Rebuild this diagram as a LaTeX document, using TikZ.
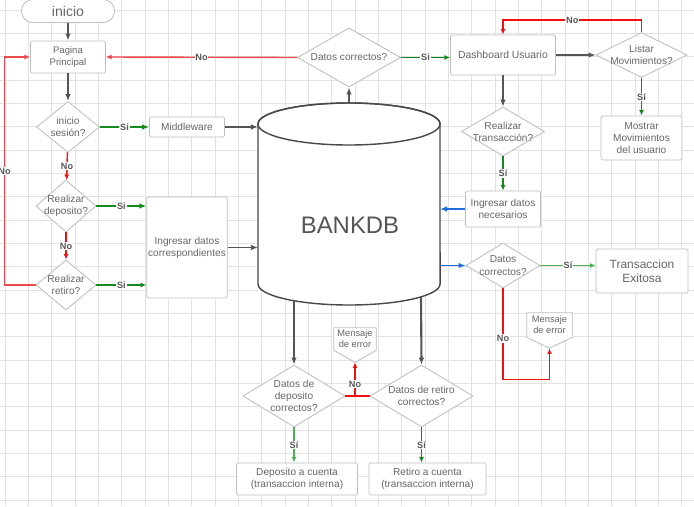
\documentclass[tikz,border=0pt]{standalone}
\usepackage{fontspec}
\setmainfont{Liberation Sans}
\usepackage{tikz}
\usetikzlibrary{arrows.meta,calc,shapes.geometric}

\definecolor{gridgray}{HTML}{E2E2E2}
\definecolor{boxgray}{HTML}{BEBEBE}
\definecolor{txtgray}{HTML}{666666}
\definecolor{lblgray}{HTML}{555555}
\definecolor{linegray}{HTML}{555555}
\definecolor{flowred}{HTML}{EE1111}
\definecolor{lightred}{HTML}{EC4A4A}
\definecolor{flowgreen}{HTML}{138A1B}
\definecolor{lightgreen}{HTML}{4FB052}
\definecolor{flowblue}{HTML}{1E6FD9}

\pgfdeclarelayer{back}
\pgfsetlayers{back,main}

\tikzset{
  box/.style={draw=boxgray, line width=0.6pt, fill=white, rounded corners=1pt,
    text=txtgray, align=center, inner sep=1pt, font=\fontsize{7.2}{8.7}\selectfont},
  msgbox/.style={inner sep=0pt, text=txtgray, align=center, font=\fontsize{6.6}{7.9}\selectfont},
  decision/.style={diamond, draw=boxgray, line width=0.6pt, fill=white, inner sep=0pt},
  dtext/.style={text=txtgray, align=center, inner sep=0pt, font=\fontsize{7.2}{8.7}\selectfont},
  lbl/.style={fill=white, inner sep=0.6pt, text=lblgray, font=\bfseries\fontsize{6.5}{7}\selectfont},
  gridline/.style={draw=gridgray, line width=0.5pt},
  dbline/.style={draw=linegray!85!black, line width=1pt},
  darrow/.style={draw=linegray, line width=1.1pt, -{Latex[length=5pt,width=4pt]}},
  dthick/.style={darrow, line width=1.5pt},
  redarrow/.style={draw=flowred, color=flowred, line width=1pt, -{Latex[length=4pt,width=3.5pt]}},
  lightredarrow/.style={redarrow, draw=lightred, color=lightred},
  redline/.style={draw=flowred, line width=1pt},
  greenthick/.style={draw=flowgreen, line width=1.5pt, -{Latex[length=5pt,width=4pt]}},
  greenarrow/.style={draw=flowgreen, line width=0.9pt, -{Latex[length=4pt,width=3.5pt]}},
  lightgreenarrow/.style={greenarrow, draw=lightgreen},
  bluearrow/.style={draw=flowblue, line width=1.1pt, -{Latex[length=5pt,width=4pt]}}
}

\begin{document}
\begin{tikzpicture}[x=0.025cm, y=-0.025cm]
\useasboundingbox (0,0) rectangle (694,506);

% grid
\begin{pgfonlayer}{back}
\fill[white] (0,0) rectangle (694,506);
\foreach \gx in {5,28.33,...,694} \draw[gridline] (\gx,0) -- (\gx,506);
\foreach \gy in {10,33.33,...,506} \draw[gridline] (0,\gy) -- (694,\gy);
\end{pgfonlayer}

% database
\draw[dbline, fill=white] (258,124) -- (258,284)
  arc[start angle=180, end angle=360, x radius=2.275cm, y radius=0.525cm]
  -- (440,124) arc[start angle=0, end angle=180, x radius=2.275cm, y radius=0.525cm] -- cycle;
\draw[dbline] (349,124) ellipse [x radius=2.275cm, y radius=0.525cm];
\node[text=lblgray, font=\fontsize{17}{20}\selectfont] (bankdb) at (350,225) {BANKDB};
\coordinate (dbleft) at (258,124);
\coordinate (dbright) at (440,124);
\coordinate (dbtop) at (349,103);
\coordinate (dbdep) at (294,300);
\coordinate (dbret) at (421,297);

% left column
\node[box, minimum width=2.325cm, minimum height=0.575cm, rounded corners=0.28cm,
  font=\fontsize{10}{12}\selectfont] (inicio) at (68,11) {inicio};
\node[box, minimum width=1.875cm, minimum height=0.8cm,
  font=\fontsize{6.8}{8}\selectfont] (pagina) at (68,57) {Pagina\\Principal};
\node[decision, minimum width=1.575cm, minimum height=1.275cm,
  label={[dtext]center:{inicio\\sesión?}}] (sesion) at (68,127) {};
\node[box, minimum width=1.875cm, minimum height=0.5cm] (middle) at (187,127) {Middleware};
\node[decision, minimum width=1.5cm, minimum height=1.3cm,
  label={[dtext]center:{Realizar\\deposito?}}] (deposito) at (66,206) {};
\node[decision, minimum width=1.5cm, minimum height=1.25cm,
  label={[dtext]center:{Realizar\\retiro?}}] (retiro) at (66,285) {};
\node[box, minimum width=1.875cm, minimum height=2.525cm] (ingcorr) at (187,247.5) {Ingresar datos\\correspondientes};

% top and right
\node[decision, minimum width=2.575cm, minimum height=1.475cm,
  label={[dtext]center:{Datos correctos?}}] (datosok) at (349,57.5) {};
\node[box, minimum width=2.625cm, minimum height=1cm,
  font=\fontsize{7.4}{9}\selectfont] (dash) at (503,55) {Dashboard Usuario};
\node[decision, minimum width=2.275cm, minimum height=1.125cm,
  label={[dtext]center:{Listar\\Movimientos?}}] (listar) at (641.5,55) {};
\node[box, minimum width=2.025cm, minimum height=1.1cm] (mostrar) at (641.5,138) {Mostrar\\Movimientos\\del usuario};
\node[decision, minimum width=2.075cm, minimum height=1.225cm,
  label={[dtext]center:{Realizar\\Transacción?}}] (transac) at (503,131.5) {};
\node[box, minimum width=1.875cm, minimum height=0.9cm] (ingnec) at (503,209) {Ingresar datos\\necesarios};
\node[decision, minimum width=1.85cm, minimum height=1.125cm,
  label={[dtext]center:{Datos\\correctos?}}] (datosok2) at (503,265.5) {};
\node[box, minimum width=2.3cm, minimum height=1.1cm,
  font=\fontsize{8.5}{10.2}\selectfont] (exito) at (642,271) {Transaccion\\Exitosa};
\node[msgbox, minimum width=1.125cm, minimum height=0.6cm] (msgret) at (549.5,325) {Mensaje\\de error};
\coordinate (msgret-tip) at ($(msgret.south)+(0,11)$);

% bottom
\node[decision, minimum width=2.55cm, minimum height=1.55cm,
  label={[dtext]center:{Datos de\\deposito\\correctos?}}] (depok) at (294,396) {};
\node[decision, minimum width=2.575cm, minimum height=1.55cm,
  label={[dtext]center:{Datos de retiro\\correctos?}}] (retok) at (421.5,396) {};
\node[msgbox, minimum width=1.05cm, minimum height=0.55cm] (msgdep) at (355,339) {Mensaje\\de error};
\coordinate (msgdep-tip) at ($(msgdep.south)+(0,12)$);
\node[box, minimum width=3.025cm, minimum height=0.8cm] (depcta) at (297,479) {Deposito a cuenta\\(transaccion interna)};
\node[box, minimum width=2.925cm, minimum height=0.8cm] (retcta) at (427.5,479) {Retiro a cuenta\\(transaccion interna)};

\begin{pgfonlayer}{back}
\foreach \m in {msgret,msgdep}
  \draw[draw=boxgray, line width=0.6pt, fill=white] (\m.north west) -- (\m.north east)
    -- (\m.south east) -- (\m-tip) -- (\m.south west) -- cycle;
\end{pgfonlayer}

% connectors
\draw[darrow] (inicio) -- (pagina);
\draw[darrow] (pagina) -- (sesion);
\draw[greenthick] (sesion) -- node[lbl]{Si} (middle);
\draw[darrow] (middle.east) -- (middle.east -| dbleft);
\draw[redarrow] (sesion) -- node[lbl]{No} (deposito);
\draw[redarrow] (deposito) -- node[lbl]{No} (retiro);
\draw[greenthick] (deposito.east) -- node[lbl]{Si} (deposito.east -| ingcorr.west);
\draw[greenarrow] (retiro.east) -- node[lbl]{Si} (retiro.east -| ingcorr.west);
\draw[lightredarrow] (retiro.west) -- ++(-31,0) |- node[lbl, pos=0.25]{No} (pagina.west);
\draw[darrow] (ingcorr.east) -- (ingcorr.east -| dbleft);
\draw[darrow] (dbtop) -- (datosok.south);
\draw[lightredarrow] (datosok.west) -- node[lbl]{No} (pagina.east);
\draw[greenarrow] (datosok.east) -- node[lbl]{Si} (datosok.east -| dash.west);
\draw[dthick] (dash.east) -- (listar.west);
\draw[redarrow] (listar.north) -- ++(0,-12) -| node[lbl, pos=0.25]{No} (dash.north);
\draw[greenarrow] (listar) -- node[lbl]{Sí} (mostrar);
\draw[darrow] (dash) -- (transac);
\draw[greenarrow] (transac) -- node[lbl]{Sí} (ingnec);
\draw[bluearrow] (ingnec.west) -- (ingnec.west -| dbright);
\draw[bluearrow] (datosok2.west -| dbright) -- (datosok2.west);
\draw[lightgreenarrow] (datosok2.east) -- node[lbl]{Sí} (datosok2.east -| exito.west);
\draw[redarrow] (datosok2.south) -- node[lbl, pos=0.55]{No} ++(0,91) -| (msgret-tip);
\draw[dthick] (dbdep) -- (depok.north);
\draw[dthick] (dbret) -- (retok.north);
\draw[redline] (depok.east) -- (retok.west);
\draw[redarrow] (depok.east -| msgdep-tip) -- node[lbl, pos=0.35]{No} (msgdep-tip);
\draw[lightgreenarrow] (depok.south) -- node[lbl]{Sí} (depok.south |- depcta.north);
\draw[greenarrow] (retok.south) -- node[lbl]{Sí} (retok.south |- retcta.north);

\end{tikzpicture}
\end{document}
